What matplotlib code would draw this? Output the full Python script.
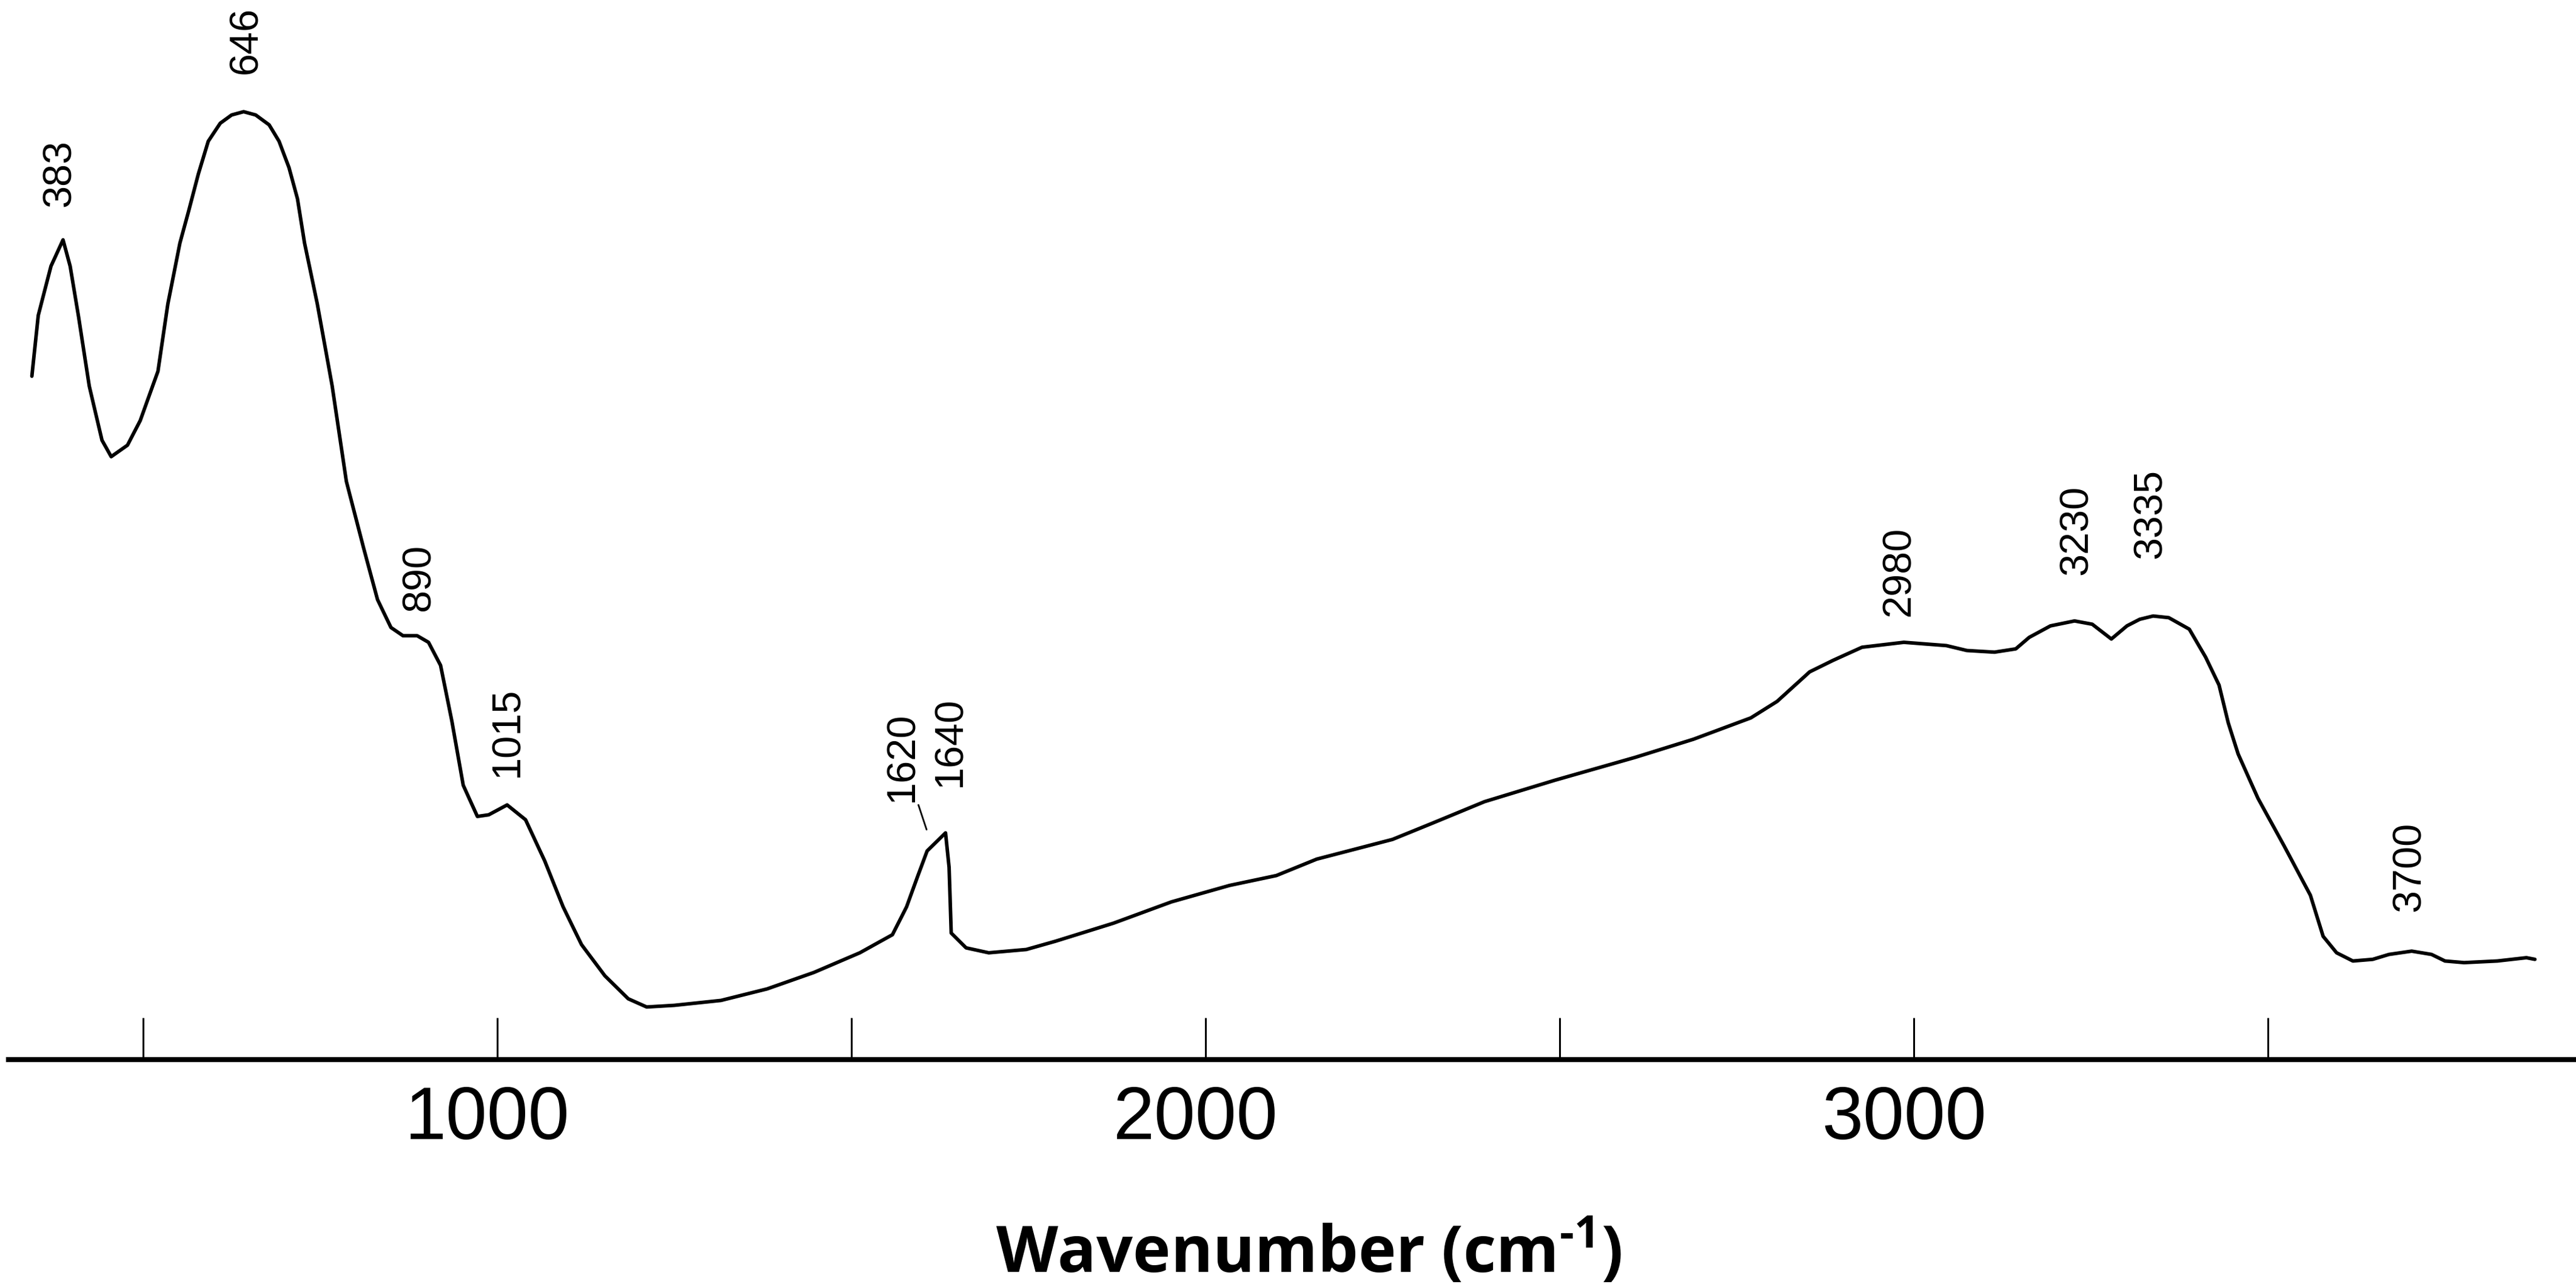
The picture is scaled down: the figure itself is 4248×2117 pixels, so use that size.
import matplotlib
matplotlib.use("Agg")
import matplotlib.pyplot as plt
import matplotlib.transforms as mtransforms
from matplotlib.ticker import FixedLocator, NullFormatter

plt.rcParams["font.family"] = ["Liberation Sans", "DejaVu Sans"]
plt.rcParams["mathtext.fontset"] = "custom"
plt.rcParams["mathtext.rm"] = "Open Sans:bold"
plt.rcParams["mathtext.bf"] = "Open Sans:bold"
plt.rcParams["mathtext.default"] = "rm"

# Spectrum (wavenumber in cm-1, intensity in arbitrary units)
wavenumber = [
    343, 352, 370, 387, 397, 409, 424, 442, 455, 478, 496, 521, 535, 552,
    564, 578, 592, 609, 625, 642, 659, 678, 692, 706, 718, 728, 746, 767,
    787, 811, 831, 850, 867, 887, 903, 920, 936, 952, 972, 988, 1014,
    1040, 1067, 1093, 1119, 1152, 1185, 1211, 1250, 1316, 1381, 1447,
    1512, 1558, 1578, 1594, 1607, 1633, 1638, 1641, 1662, 1694, 1747,
    1788, 1870, 1952, 2034, 2100, 2157, 2264, 2321, 2394, 2493, 2607,
    2689, 2770, 2807, 2853, 2886, 2927, 2986, 3046, 3075, 3114, 3144,
    3163, 3193, 3227, 3252, 3279, 3301, 3319, 3338, 3360, 3389, 3412,
    3431, 3444, 3458, 3486, 3523, 3560, 3578, 3597, 3620, 3648, 3671,
    3703, 3731, 3750, 3777, 3824, 3865, 3877,
]
intensity = [
    416, 453, 483, 499, 483, 452, 410, 377, 367, 374, 389, 419, 460, 497,
    516, 539, 559, 570, 575, 577, 575, 569, 559, 543, 524, 497, 460, 410,
    352, 312, 280, 263, 258, 258, 254, 240, 206, 167, 148, 149, 155, 146,
    121, 93, 70, 51, 37, 32, 33, 36, 43, 53, 65, 76, 93, 112, 127, 138,
    117, 77, 68, 65, 67, 72, 83, 96, 106, 112, 122, 134, 144, 157, 170,
    184, 195, 208, 218, 236, 243, 251, 254, 252, 249, 248, 250, 257, 264,
    267, 265, 256, 264, 268, 270, 269, 262, 245, 228, 205, 186, 159, 130,
    100, 75, 65, 60, 61, 64, 66, 64, 60, 59, 60, 62, 61,
]

# Peak labels, the curve height under each, and the clearance above it (points)
peak_labels = ["383", "646", "890", "1015", "1640", "2980", "3230", "3335", "3700"]
peak_positions = [383, 646, 890, 1015, 1640, 2980, 3230, 3335, 3700]
peak_heights = [499, 577, 258, 155, 138, 254, 267, 270, 66]
label_gaps = [20, 23, 15, 17, 28, 16, 28, 35, 24]

major_ticks = [1000, 2000, 3000]
minor_ticks = [500, 1500, 2500, 3500]

fig = plt.figure(figsize=(42.48, 21.17), dpi=100)
ax = fig.add_axes([0.0033, 0.1748, 0.9967, 0.8252])

ax.plot(wavenumber, intensity, color="black", linewidth=4.2,
        solid_joinstyle="round", solid_capstyle="round")

# Peak annotations, rotated like in the original figure
for label, pos, height, gap in zip(peak_labels, peak_positions, peak_heights, label_gaps):
    ax.text(pos, height + gap, label, rotation=90, ha="center", va="bottom",
            fontsize=48)

# The 1620 shoulder uses a small leader line
ax.annotate("1620", xy=(1607, 139), xytext=(1572, 157), rotation=90,
            ha="center", va="bottom", fontsize=48,
            arrowprops=dict(arrowstyle="-", color="black", lw=2,
                            shrinkA=2, shrinkB=2))

ax.set_xlim(310, 3935)
ax.set_ylim(0, 645)

for side in ["top", "right", "left"]:
    ax.spines[side].set_visible(False)
ax.spines["bottom"].set_linewidth(6)
ax.set_yticks([])

ax.xaxis.set_major_locator(FixedLocator(major_ticks))
ax.xaxis.set_minor_locator(FixedLocator(minor_ticks))
ax.xaxis.set_minor_formatter(NullFormatter())
ax.tick_params(axis="x", which="both", direction="in", length=50, width=2.2,
               color="black")
ax.tick_params(axis="x", which="major", labelsize=88, pad=30)

# tick labels sit a little left of their ticks in the original
shift = mtransforms.ScaledTranslation(-16 / 100, 0, fig.dpi_scale_trans)
for lab in ax.get_xticklabels():
    lab.set_transform(lab.get_transform() + shift)

fig.text(0.508, 0.009, r"Wavenumber (cm$^{\text{-1}}$)", ha="center",
         va="baseline", fontsize=76, fontweight="bold",
         family=["Open Sans", "DejaVu Sans"])

fig.savefig("out.png", dpi=100, facecolor="white")
